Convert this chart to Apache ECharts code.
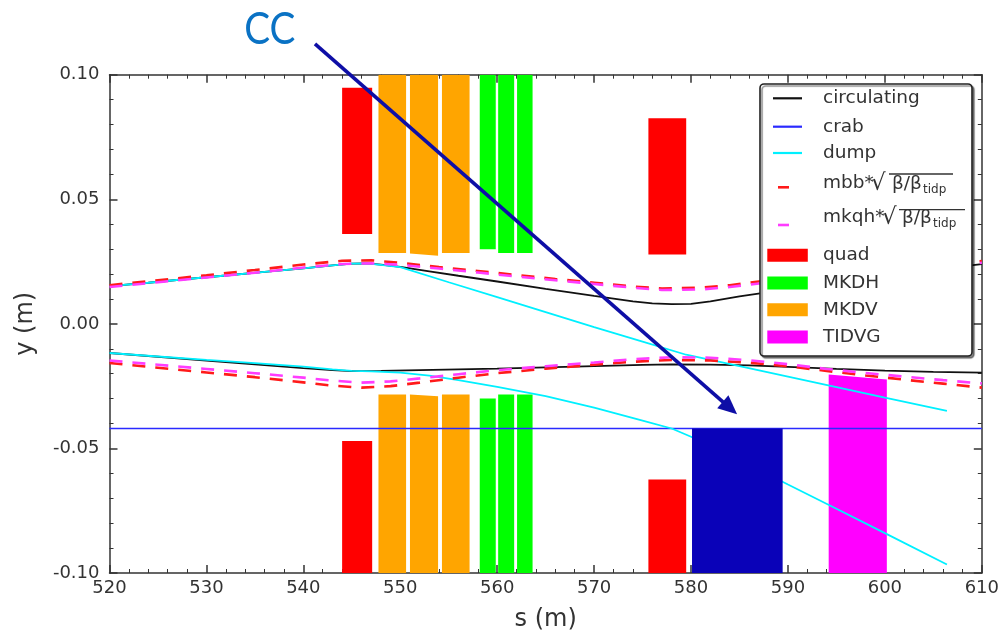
<!DOCTYPE html>
<html><head><meta charset="utf-8">
<script src="https://cdn.jsdelivr.net/npm/echarts@6/dist/echarts.min.js"></script>
<style>html,body{margin:0;padding:0;background:#fff}#c{width:1002px;height:637px}</style>
</head><body><div id="c"></div>
<script>
// ---------------- data ----------------
const xTicks = [520, 530, 540, 550, 560, 570, 580, 590, 600, 610];
const yTicks = [-0.10, -0.05, 0.00, 0.05, 0.10];

// boxes: [sStart, sEnd, yInnerLeft, yInnerRight, yOuter]
const quadBoxes = [[544.0, 547.1, 0.0361, 0.0361, 0.0948], [544.0, 547.1, -0.047, -0.047, -0.1],
                   [575.6, 579.5, 0.0278, 0.0278, 0.0825], [575.6, 579.5, -0.0625, -0.0625, -0.1]];
const mkdvBoxes = [[547.75, 550.6, 0.0284, 0.0284, 0.1], [551.0, 553.9, 0.0282, 0.0273, 0.1], [554.3, 557.15, 0.0284, 0.0284, 0.1],
                   [547.75, 550.6, -0.0284, -0.0284, -0.1], [551.0, 553.9, -0.0284, -0.0291, -0.1], [554.3, 557.15, -0.0284, -0.0284, -0.1]];
const mkdhBoxes = [[558.2, 559.85, 0.0299, 0.0299, 0.1], [560.1, 561.75, 0.0284, 0.0284, 0.1], [562.05, 563.65, 0.0284, 0.0284, 0.1],
                   [558.2, 559.85, -0.030, -0.030, -0.1], [560.1, 561.75, -0.0284, -0.0284, -0.1], [562.05, 563.65, -0.0284, -0.0284, -0.1]];
const tidvgBoxes = [[594.2, 600.2, -0.0203, -0.0223, -0.1]];
const ccBoxes = [[580.1, 589.45, -0.042, -0.042, -0.1]];

const circUpper = [[520,0.0151],[524,0.0165],[528,0.0180],[532,0.0194],[536,0.0209],[540,0.0223],[543,0.0235],[545,0.0242],[546.5,0.0243],[548,0.0238],[550,0.0229],[553,0.0211],[556,0.0193],[560,0.0170],[565,0.0140],[570,0.0112],[574,0.0090],[576,0.0082],[578,0.0079],[580,0.0080],[582,0.0090],[585,0.0110],[588,0.0127],[592,0.0148],[596,0.0170],[600,0.0192],[605,0.0218],[610,0.0240]];
const circLower = [[520,-0.0117],[525,-0.0132],[530,-0.0148],[535,-0.0163],[540,-0.0178],[543,-0.0186],[545,-0.0190],[548,-0.0189],[552,-0.0186],[556,-0.0183],[560,-0.0180],[565,-0.0175],[570,-0.0170],[575,-0.0165],[578,-0.0163],[582,-0.0164],[586,-0.0167],[590,-0.0173],[595,-0.0181],[600,-0.0188],[605,-0.0193],[610,-0.0196]];
const crabLine = [[520,-0.042],[610,-0.042]];
const dumpUpper = [[520,0.0151],[524,0.0165],[528,0.0180],[532,0.0194],[536,0.0209],[540,0.0223],[543,0.0235],[545,0.0242],[546.5,0.0243],[548,0.0237],[550,0.0228],[555,0.0167],[560,0.0107],[565,0.0047],[570,-0.0013],[575,-0.0071],[579.5,-0.0124],[585,-0.0170],[590,-0.0212],[595,-0.0254],[600,-0.0296],[606.4,-0.0349]];
const dumpLower = [[520,-0.0117],[525,-0.0131],[530,-0.0145],[535,-0.0158],[540,-0.0172],[543,-0.0183],[545,-0.0189],[547,-0.0191],[550,-0.0196],[553,-0.0208],[556,-0.0226],[560,-0.0253],[565,-0.0290],[570,-0.0336],[575,-0.0388],[578,-0.0420],[580,-0.0453],[585,-0.0547],[590,-0.0645],[595,-0.0742],[600,-0.0840],[606.4,-0.0966]];
const mbbUpper = [[520,0.0155],[525,0.0175],[530,0.0195],[535,0.0216],[540,0.0238],[544,0.0253],[547,0.0255],[550,0.0245],[554,0.0228],[558,0.0212],[562,0.0196],[566,0.0180],[570,0.0165],[574,0.0150],[577,0.0142],[581,0.0145],[584,0.0155],[587,0.0170],[592,0.0192],[597,0.0212],[603,0.0233],[610,0.0252]];
const mbbLower = [[520,-0.0157],[525,-0.0176],[530,-0.0195],[535,-0.0214],[540,-0.0235],[543,-0.0248],[546,-0.0256],[549,-0.0250],[552,-0.0236],[556,-0.0216],[560,-0.0198],[565,-0.0180],[570,-0.0164],[574,-0.0152],[578,-0.0145],[582,-0.0147],[586,-0.0156],[590,-0.0170],[594,-0.0189],[598,-0.0207],[602,-0.0224],[606,-0.0240],[610,-0.0256]];
const mkqhUpper = [[520,0.0148],[525,0.0167],[530,0.0186],[535,0.0205],[540,0.0226],[544,0.0240],[547,0.0243],[550,0.0237],[554,0.0222],[558,0.0206],[562,0.0190],[566,0.0175],[570,0.0160],[574,0.0145],[577,0.0136],[581,0.0138],[584,0.0148],[587,0.0162],[592,0.0185],[597,0.0205],[603,0.0226],[610,0.0245]];
const mkqhLower = [[520,-0.0147],[525,-0.0164],[530,-0.0181],[535,-0.0198],[540,-0.0216],[543,-0.0228],[546,-0.0236],[549,-0.0231],[552,-0.0219],[556,-0.0202],[560,-0.0186],[565,-0.0170],[570,-0.0155],[574,-0.0142],[578,-0.0134],[582,-0.0136],[586,-0.0146],[590,-0.0162],[594,-0.0181],[598,-0.0197],[602,-0.0212],[606,-0.0226],[610,-0.0239]];

// annotation (data coordinates)
const ccLabel = 'CC';
const ccLabelAt = [533.9, 0.1180];
const ccArrowFrom = [541.2, 0.1124];
const ccArrowTo = [584.75, -0.0363];

// ---------------- chart ----------------
const FONT = 'DejaVu Sans';
const TXT = '#333';
const chart = echarts.init(document.getElementById('c'), null, {renderer: 'canvas'});

const axisBase = {
  type: 'value',
  axisLine: {show: true, onZero: false, lineStyle: {color: '#333', width: 1.5}},
  axisTick: {show: true, inside: true, length: 8, lineStyle: {color: '#333', width: 1.5}},
  minorTick: {show: true, splitNumber: 5, length: 4, lineStyle: {color: '#333', width: 1}},
  splitLine: {show: false}, minorSplitLine: {show: false}
};

function boxSeries(data, color, z) {
  return {
    type: 'custom', data: data, z: z, silent: true, clip: true,
    encode: {x: [0, 1], y: [2, 3, 4]},
    renderItem: function (params, api) {
      const s0 = api.value(0), s1 = api.value(1), yl = api.value(2), yr = api.value(3), yo = api.value(4);
      return {
        type: 'polygon',
        shape: {points: [api.coord([s0, yo]), api.coord([s1, yo]), api.coord([s1, yr]), api.coord([s0, yl])]},
        style: {fill: color, stroke: null}
      };
    }
  };
}
function lineSeries(data, color, width, dash, z) {
  return {
    type: 'line', data: data, z: z, silent: true, showSymbol: false, symbol: 'none', smooth: false, clip: true,
    lineStyle: {color: color, width: width, type: dash || 'solid'}
  };
}

chart.setOption({
  animation: false,
  backgroundColor: '#fff',
  grid: {left: 109.5, right: 18.5, top: 74.7, bottom: 60.3},
  xAxis: [
    Object.assign({}, axisBase, {min: xTicks[0], max: xTicks[xTicks.length - 1], interval: 10, position: 'bottom',
      axisLabel: {show: true, margin: 6, color: TXT, fontFamily: FONT, fontSize: 18},
      name: 's (m)', nameLocation: 'middle', nameGap: 35,
      nameTextStyle: {color: TXT, fontFamily: FONT, fontSize: 24}}),
    Object.assign({}, axisBase, {min: xTicks[0], max: xTicks[xTicks.length - 1], interval: 10, position: 'top',
      axisLabel: {show: false}})
  ],
  yAxis: [
    Object.assign({}, axisBase, {min: yTicks[0], max: yTicks[yTicks.length - 1], interval: 0.05, position: 'left',
      axisLabel: {show: true, margin: 10, color: TXT, fontFamily: FONT, fontSize: 18,
        formatter: v => (Math.abs(v) < 1e-9 ? 0 : v).toFixed(2)},
      name: 'y (m)', nameLocation: 'middle', nameGap: 72, nameRotate: 90,
      nameTextStyle: {color: TXT, fontFamily: FONT, fontSize: 24}}),
    Object.assign({}, axisBase, {min: yTicks[0], max: yTicks[yTicks.length - 1], interval: 0.05, position: 'right',
      axisLabel: {show: false}})
  ],
  series: [
    boxSeries(quadBoxes, '#ff0000', 1),
    boxSeries(mkdvBoxes, '#ffa500', 1),
    boxSeries(mkdhBoxes, '#00ff00', 1),
    boxSeries(tidvgBoxes, '#ff00ff', 1),
    lineSeries(circUpper, '#111111', 1.8, null, 2),
    lineSeries(circLower, '#111111', 1.8, null, 2),
    lineSeries(crabLine, '#2a2aff', 1.7, null, 2),
    lineSeries(dumpUpper, '#00f0ff', 1.8, null, 3),
    lineSeries(dumpLower, '#00f0ff', 1.8, null, 3),
    lineSeries(mbbUpper, '#ff1a1a', 2.6, [13, 10], 4),
    lineSeries(mbbLower, '#ff1a1a', 2.6, [13, 10], 4),
    lineSeries(mkqhUpper, '#ff3cff', 2.6, [13, 10], 4),
    lineSeries(mkqhLower, '#ff3cff', 2.6, [13, 10], 4),
    boxSeries(ccBoxes, '#0a02b8', 6)
  ]
});

// ---------------- annotation + legend ----------------
const toPx = p => chart.convertToPixel({xAxisIndex: 0, yAxisIndex: 0}, p);
const a0 = toPx(ccArrowFrom), a1 = toPx(ccArrowTo), lp = toPx(ccLabelAt);
const dx = a1[0] - a0[0], dy = a1[1] - a0[1], L = Math.hypot(dx, dy);
const ux = dx / L, uy = dy / L, headL = 19, headW = 8.5;
const base = [a1[0] - ux * headL, a1[1] - uy * headL];
const arrowColor = '#0e0ea6';

const graphics = [
  {type: 'line', z: 50, shape: {x1: a0[0], y1: a0[1], x2: base[0] + ux * 2, y2: base[1] + uy * 2},
   style: {stroke: arrowColor, lineWidth: 3.6}},
  {type: 'polygon', z: 50, shape: {points: [a1, [base[0] - uy * headW, base[1] + ux * headW], [base[0] + uy * headW, base[1] - ux * headW]]},
   style: {fill: arrowColor}},
  {type: 'text', z: 50, x: lp[0], y: lp[1], scaleX: 0.86, originX: 0, originY: 0,
   style: {text: ccLabel, fill: '#0a72c4', fontSize: 45, fontFamily: 'Lato', textAlign: 'left', textVerticalAlign: 'middle'}}
];

// legend (custom layout to mimic the matplotlib legend)
const LX = 760, LY = 84, LW = 212, LH = 272;
graphics.push({type: 'rect', z: 60, shape: {x: LX, y: LY, width: LW, height: LH, r: 4},
  style: {fill: '#fff', stroke: '#222', lineWidth: 1.6, shadowColor: 'rgba(0,0,0,0.45)', shadowOffsetX: 2, shadowOffsetY: 2, shadowBlur: 1}});
const legendLines = [['circulating', '#111111', 98.3], ['crab', '#2a2aff', 126.7], ['dump', '#00f0ff', 153]];
legendLines.forEach(([name, col, y]) => {
  graphics.push({type: 'line', z: 61, shape: {x1: 773, y1: y, x2: 802, y2: y}, style: {stroke: col, lineWidth: 2.2}});
  graphics.push({type: 'text', z: 61, x: 823, y: y, style: {text: name, fill: TXT, fontSize: 18.5, fontFamily: FONT, textVerticalAlign: 'middle'}});
});
const legendDash = [['mbb*', '#ff1a1a', 187.3, 193, 871, 890, 953, 174], ['mkqh*', '#ff3cff', 225, 227, 882, 900, 965, 209.7]];
legendDash.forEach(([name, col, ys, yb, xr, xb, xe, yo]) => {
  graphics.push({type: 'line', z: 61, shape: {x1: 778, y1: ys, x2: 789, y2: ys}, style: {stroke: col, lineWidth: 2.6}});
  graphics.push({type: 'text', z: 61, x: 823, y: yb, style: {text: name, fill: TXT, fontSize: 18.5, fontFamily: FONT, textVerticalAlign: 'bottom'}});
  graphics.push({type: 'text', z: 61, x: xr, y: yb + 3, style: {text: '\u221A', fill: TXT, fontSize: 23, fontFamily: FONT, textVerticalAlign: 'bottom'}});
  graphics.push({type: 'line', z: 61, shape: {x1: xb - 1, y1: yo, x2: xe, y2: yo}, style: {stroke: '#333', lineWidth: 1.3}});
  graphics.push({type: 'text', z: 61, x: xb + 2, y: yb + 1, style: {text: '\u03B2/\u03B2', fill: TXT, fontSize: 18.5, fontFamily: FONT, textVerticalAlign: 'bottom'}});
  graphics.push({type: 'text', z: 61, x: xb + 33, y: yb + 3, style: {text: 'tidp', fill: TXT, fontSize: 12, fontFamily: FONT, textVerticalAlign: 'bottom'}});
});
const legendPatches = [['quad', '#ff0000', 255.3], ['MKDH', '#00ff00', 283], ['MKDV', '#ffa500', 309.7], ['TIDVG', '#ff00ff', 337]];
legendPatches.forEach(([name, col, y]) => {
  graphics.push({type: 'rect', z: 61, shape: {x: 767.3, y: y - 6.5, width: 40.5, height: 13}, style: {fill: col}});
  graphics.push({type: 'text', z: 61, x: 823, y: y, style: {text: name, fill: TXT, fontSize: 18.5, fontFamily: FONT, textVerticalAlign: 'middle'}});
});

chart.setOption({graphic: graphics});
</script></body></html>
